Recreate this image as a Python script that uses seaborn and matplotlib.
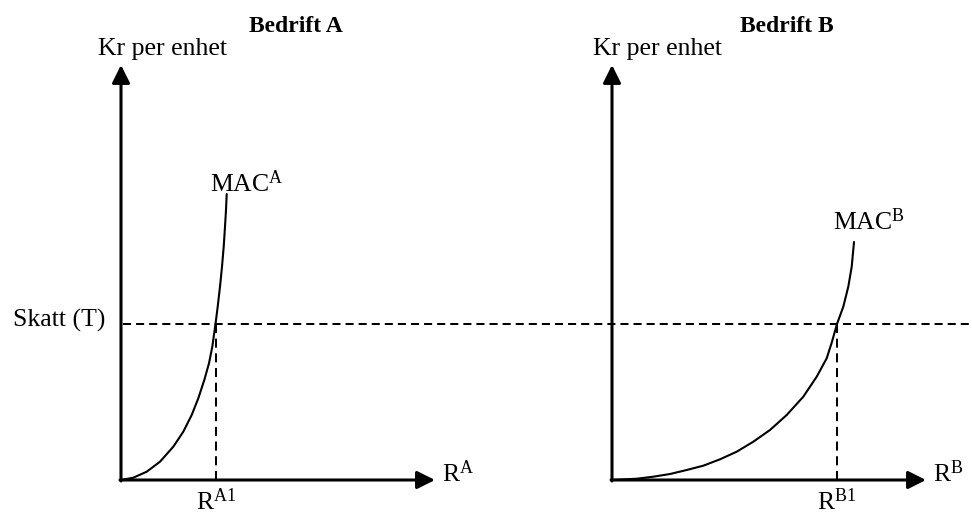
import numpy as np
import pandas as pd
import matplotlib
matplotlib.use("Agg")
import matplotlib.pyplot as plt
import seaborn as sns

# ---- data (units: 1 unit = 10 px) ----
tax_T = 15.6                      # Skatt (T)
y_axis_top = 41.5                 # top of the price axis
x_axis_end = 31.4                 # end of the quantity axis
RA1 = 9.45                        # abatement of firm A at T
RB1 = 22.5                        # abatement of firm B at T

macA_x = [0.0, 1.23, 2.57, 3.9, 5.23, 6.23, 7.07, 7.73, 8.33, 8.8, 9.13, 9.45,
          9.67, 9.9, 10.1, 10.27, 10.4, 10.5, 10.57]
macA_y = [0.0, 0.23, 0.83, 1.83, 3.33, 4.83, 6.5, 8.17, 10.0, 11.67, 13.33, 15.6,
          17.33, 19.33, 21.33, 23.33, 25.33, 27.0, 28.6]

macB_x = [0.0, 2.5, 4.13, 5.8, 7.47, 9.13, 10.8, 12.47, 14.13, 15.8, 17.47, 19.13,
          20.47, 21.47, 21.97, 22.5, 23.13, 23.63, 23.97, 24.2]
macB_y = [0.0, 0.13, 0.33, 0.6, 1.0, 1.43, 2.07, 2.83, 3.83, 5.0, 6.5, 8.33,
          10.33, 12.17, 13.73, 15.6, 17.33, 19.33, 21.33, 23.8]

titles = ["Bedrift A", "Bedrift B"]
y_label = "Kr per enhet"
tax_label = "Skatt (T)"
curve_labels = [r"$\mathrm{MAC}^{\mathrm{A}}$", r"$\mathrm{MAC}^{\mathrm{B}}$"]
x_labels = [r"$\mathrm{R}^{\mathrm{A}}$", r"$\mathrm{R}^{\mathrm{B}}$"]
r1_labels = [r"$\mathrm{R}^{\mathrm{A1}}$", r"$\mathrm{R}^{\mathrm{B1}}$"]

sns.set_theme(style="white")
plt.rcParams["font.family"] = ["Liberation Serif", "DejaVu Serif"]
plt.rcParams["text.color"] = "black"
plt.rcParams["mathtext.fontset"] = "custom"
plt.rcParams["mathtext.rm"] = "Liberation Serif"
plt.rcParams["mathtext.it"] = "Liberation Serif:italic"
plt.rcParams["mathtext.bf"] = "Liberation Serif:bold"

W, H = 972, 513
fig = plt.figure(figsize=(W / 100, H / 100), dpi=100)
fig.patch.set_facecolor("white")

# axes rectangles: left half and right half of the figure, origins at px (121,480) and (612,480)
axA = fig.add_axes([0, 0, 0.5, 1])
axB = fig.add_axes([0.5, 0, 0.5, 1])
axA.set_xlim((0 - 121) / 10, (486 - 121) / 10)
axB.set_xlim((486 - 612) / 10, (972 - 612) / 10)
for ax in (axA, axB):
    ax.set_ylim((480 - 513) / 10, 480 / 10)
    ax.axis("off")

FS = 18.5
axis_lw = 2.2
curve_lw = 1.5
dash_lw = 1.45

dfA = pd.DataFrame({"x": macA_x, "y": macA_y})
dfB = pd.DataFrame({"x": macB_x, "y": macB_y})

arrow_kw = dict(arrowstyle="-|>,head_length=1.08,head_width=0.54", lw=axis_lw,
                color="black", shrinkA=0, shrinkB=0, mutation_scale=10)

for ax, df, r1, title, clab, xlab, r1lab, ylab_x, clab_pos in [
    (axA, dfA, RA1, titles[0], curve_labels[0], x_labels[0], r1_labels[0], -2.3, (8.9, 28.8)),
    (axB, dfB, RB1, titles[1], curve_labels[1], x_labels[1], r1_labels[1], -1.9, (22.1, 25.0)),
]:
    # axes with arrowheads
    ax.annotate("", xy=(0, y_axis_top), xytext=(0, -0.1), arrowprops=arrow_kw)
    ax.annotate("", xy=(x_axis_end, 0), xytext=(-0.1, 0), arrowprops=arrow_kw)
    # MAC curve
    sns.lineplot(data=df, x="x", y="y", ax=ax, color="black", lw=curve_lw,
                 estimator=None, sort=False, legend=False)
    ax.lines[-1].set_solid_joinstyle("round")
    ax.lines[-1].set_clip_on(False)
    # vertical dashed line at R1
    ax.plot([r1, r1], [0, tax_T], color="black", lw=dash_lw, ls=(0, (4.5, 2.8)))
    # texts
    ax.text(17.45, 44.8, title, ha="center", va="baseline", fontsize=17, fontweight="bold")
    ax.text(ylab_x, 42.5, y_label, ha="left", va="baseline", fontsize=FS)
    ax.text(clab_pos[0], clab_pos[1], clab, ha="left", va="baseline", fontsize=FS)
    ax.text(x_axis_end + 0.7, -0.2, xlab, ha="left", va="baseline", fontsize=FS)
    ax.text(r1 - 2.0, -2.95, r1lab, ha="left", va="baseline", fontsize=FS, clip_on=False)
    ax.set_xlabel("")
    ax.set_ylabel("")

# horizontal tax line across both panels
axA.axhline(tax_T, xmin=123 / 486, xmax=2.0, color="black", lw=dash_lw,
            ls=(0, (4, 2.5)), clip_on=False)
axA.text(-1.6, tax_T - 0.3, tax_label, ha="right", va="baseline", fontsize=FS)

fig.savefig("out.png", dpi=100, facecolor="white")
